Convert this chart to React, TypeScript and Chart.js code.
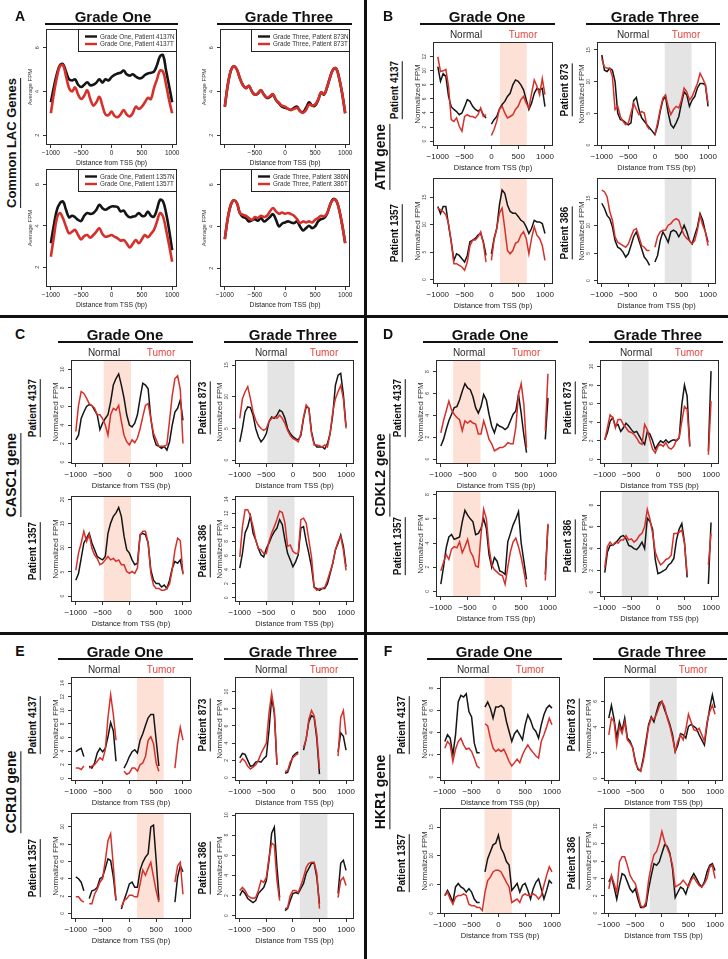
import React, { useEffect, useRef } from 'react';
import { Chart, registerables } from 'chart.js';

Chart.register(...registerables);

const FONT = '"Liberation Sans", Arial, Helvetica, sans-serif';
Chart.defaults.font.family = FONT;

// ---------- shared x positions (bp from TSS) ----------
const POS = [-1000, -950, -900, -850, -800, -750, -700, -650, -600, -550, -500, -450, -400, -350, -300, -250, -200, -150, -100, -50, 0, 50, 100, 150, 200, 250, 300, 350, 400, 450, 500, 550, 600, 650, 700, 750, 800, 850, 900, 950, 1000];
const X_TICKS = [-1000, -500, 0, 500, 1000];

// ---------- Panel A: Common LAC genes (Average FPM) ----------
const A1_N = [3.5, 4.2, 4.8, 5.2, 5.25, 4.9, 4.55, 4.5, 4.55, 4.3, 4.2, 4.3, 4.42, 4.28, 4.3, 4.4, 4.55, 4.4, 4.55, 4.5, 4.65, 4.75, 4.82, 4.85, 4.95, 4.78, 4.72, 4.78, 4.68, 4.6, 4.62, 4.75, 4.82, 4.85, 4.9, 5.2, 5.6, 5.65, 4.95, 4.25, 3.5];
const A1_T = [3.0, 3.9, 4.65, 5.15, 5.2, 4.7, 4.15, 4.0, 4.18, 3.85, 3.65, 3.8, 4.05, 3.65, 3.35, 3.5, 3.75, 3.35, 2.95, 2.92, 3.08, 2.88, 2.82, 2.95, 3.15, 2.95, 2.85, 3.0, 3.3, 3.2, 3.3, 3.5, 3.7, 3.65, 4.15, 4.55, 4.95, 4.9, 4.3, 3.6, 3.0];
const A2_N = [3.3, 4.3, 4.95, 5.15, 5.0, 4.6, 4.3, 4.15, 4.25, 4.0, 3.85, 3.9, 4.05, 3.85, 3.7, 3.75, 3.85, 3.6, 3.45, 3.3, 3.25, 3.2, 3.15, 3.25, 3.3, 3.1, 3.05, 3.25, 3.5, 3.35, 3.35, 3.6, 3.95, 3.85, 4.2, 4.65, 5.0, 5.05, 4.6, 3.9, 3.0];
const A2_T = [3.3, 4.3, 4.95, 5.15, 5.0, 4.6, 4.28, 4.15, 4.25, 4.0, 3.85, 3.92, 4.05, 3.85, 3.72, 3.78, 3.88, 3.62, 3.48, 3.35, 3.3, 3.2, 3.15, 3.2, 3.25, 3.1, 3.02, 3.15, 3.4, 3.35, 3.4, 3.62, 3.95, 3.88, 4.2, 4.65, 5.0, 5.05, 4.6, 3.9, 3.0];
const A3_N = [3.16, 4.05, 4.78, 5.1, 5.18, 4.78, 4.42, 4.49, 4.42, 4.29, 4.24, 4.49, 4.62, 4.58, 4.62, 4.78, 5.02, 4.86, 4.78, 4.86, 4.94, 4.94, 4.91, 4.7, 4.74, 4.53, 4.42, 4.45, 4.49, 4.62, 4.49, 4.49, 4.7, 4.49, 4.45, 4.81, 5.26, 5.18, 4.62, 3.81, 2.83];
const A3_T = [2.51, 3.48, 4.37, 4.62, 4.37, 3.97, 3.64, 3.72, 3.81, 3.56, 3.35, 3.51, 3.56, 3.43, 3.56, 3.72, 3.89, 3.61, 3.48, 3.51, 3.56, 3.48, 3.4, 3.29, 3.32, 3.16, 2.96, 3.13, 3.32, 3.16, 3.35, 3.56, 3.45, 3.61, 3.81, 4.21, 4.62, 4.45, 3.81, 3.08, 2.27];
const A4_N = [3.39, 4.4, 5.04, 5.25, 5.12, 4.64, 4.45, 4.4, 4.24, 4.29, 4.35, 4.27, 4.4, 4.24, 4.32, 4.45, 4.59, 4.32, 4.0, 4.13, 4.19, 4.24, 4.19, 4.16, 4.24, 4.0, 3.81, 3.92, 4.03, 3.92, 4.0, 4.24, 4.35, 4.4, 4.61, 5.04, 5.31, 5.25, 4.8, 4.08, 3.2];
const A4_T = [3.39, 4.4, 5.04, 5.25, 5.12, 4.64, 4.56, 4.51, 4.4, 4.32, 4.45, 4.4, 4.51, 4.45, 4.51, 4.72, 4.88, 4.72, 4.61, 4.67, 4.61, 4.64, 4.59, 4.51, 4.35, 4.16, 4.24, 4.19, 4.24, 4.19, 4.32, 4.4, 4.51, 4.48, 4.64, 5.04, 5.28, 5.25, 4.8, 4.08, 3.2];

// ---------- Panel B: ATM gene ----------
const B1_N = [10.6, 8.5, 9.6, 9.2, 6.35, 4.9, 4.5, 4.2, 3.75, 4.0, 4.9, 5.9, 5.65, 4.95, 4.5, 4.25, 4.5, 3.75, 3.3, null, 2.4, 3.05, 3.5, 4.55, 5.2, 5.65, 6.35, 6.8, 8.0, 8.7, 8.5, 8.0, 7.3, 5.9, 4.5, 5.4, 6.8, 7.5, 7.3, 7.5, 4.9];
const B1_T = [12.0, 9.9, 10.0, 10.2, 7.8, 3.05, 2.8, 3.3, 2.1, 1.4, 3.5, 3.75, 3.5, 3.5, 3.3, 3.75, 4.7, 3.5, 3.75, null, 0.8, 1.65, 2.8, 4.5, 4.95, 4.0, 3.3, 3.5, 3.75, 4.5, 4.95, 5.9, 6.35, 5.4, 4.7, 6.8, 8.7, 7.8, 6.6, 8.9, 6.6];
const B2_N = [14.2, 11.8, 11.6, 12.1, 11.8, 10.0, 5.05, 4.0, 3.9, 3.5, 3.2, 3.5, 7.0, 7.5, 5.6, 4.3, 3.75, 3.2, 2.7, 2.2, 1.65, 3.0, 5.3, 7.1, 7.65, 5.05, 3.2, 2.7, 3.5, 4.5, 6.6, 8.4, 7.9, 6.1, 7.1, 7.65, 9.0, 9.7, 9.7, 9.5, 6.1];
const B2_T = [13.6, 12.3, 12.1, 12.1, 10.8, 5.6, 6.1, 4.5, 3.75, 3.2, 3.5, 5.05, 6.6, 5.6, 4.8, 5.3, 5.05, 3.0, 2.45, null, 1.65, 3.5, 5.6, 7.4, 7.9, 6.1, 4.8, 5.6, 6.1, 5.85, 7.1, 9.0, 8.4, 7.1, 7.65, 8.7, 9.7, 11.3, 10.5, 9.5, 6.6];
const B3_N = [13.3, 12.0, 13.3, 13.3, 9.9, 6.9, 3.5, 4.7, 4.4, 3.8, 3.2, 4.4, 6.9, 7.2, 7.5, 8.1, 8.4, 6.9, 4.4, null, 4.7, 7.5, 9.3, 13.6, 16.3, 15.7, 13.6, 12.4, 12.1, 12.1, 11.5, 10.8, 10.5, 9.6, 8.4, 9.3, 10.8, 10.5, 10.5, 10.2, 8.4];
const B3_T = [13.0, 12.7, 12.4, 11.8, 10.2, 6.9, 2.9, 2.9, 2.6, 2.3, 1.7, 3.2, 6.2, 7.2, 7.2, 7.8, 8.7, 6.6, 3.2, null, 3.5, 7.2, 9.3, 12.1, 13.0, 9.3, 5.3, 4.7, 5.3, 6.6, 6.9, 8.1, 8.7, 7.5, 4.7, 7.5, 9.6, 8.1, 7.5, 6.2, 3.5];
const B4_N = [14.1, 13.2, 11.9, 11.3, 9.8, 7.3, 6.1, 5.8, 5.2, 4.3, 4.9, 6.4, 8.0, 8.9, 7.3, 5.8, 4.3, 3.7, 2.8, null, 3.4, 4.6, 7.3, 8.9, 8.0, 7.0, 8.9, 9.2, 8.9, 8.0, 8.9, 10.1, 8.9, 7.3, 6.7, 8.3, 9.8, 12.2, 11.0, 8.9, 7.0];
const B4_T = [16.5, 16.2, 15.3, 12.6, 11.0, 8.0, 7.0, 6.7, 6.4, 6.1, 6.7, 8.0, 9.2, 9.5, 8.0, 6.4, 6.1, 5.5, 5.5, null, 6.1, 8.0, 8.9, 9.2, 9.2, 10.1, 10.4, 11.0, 11.3, 11.0, 9.5, 8.3, 7.7, 7.3, 6.7, 7.3, 9.2, 11.9, 10.1, 8.9, 6.4];

// ---------- Panel C: CASC1 gene ----------
const C1_N = [2.4, 2.9, 4.7, 5.4, 6.0, 6.2, 6.1, 5.6, 5.1, 3.5, 4.2, 4.7, 5.1, 6.5, 8.3, 9.0, 9.5, 8.3, 6.9, 5.1, 4.0, 3.8, 4.2, 5.1, 6.9, 8.5, 8.3, 7.9, 4.7, 2.75, 1.85, 1.7, 1.5, 1.7, 1.3, 2.2, 4.0, 5.4, 5.8, 6.7, 4.5];
const C1_T = [3.3, 6.1, 7.6, 7.4, 6.9, 6.3, 6.1, 5.8, 5.1, 5.1, 4.7, 4.0, 2.9, 5.1, 5.8, 5.6, 6.1, 4.4, 2.9, 2.2, 1.85, 2.4, 2.1, 2.6, 3.6, 4.9, 6.1, 6.3, 4.7, 3.1, 2.4, 1.7, 1.7, 1.7, 1.9, 4.5, 7.2, 9.0, 9.3, 7.8, 2.0];
const C2_N = [2.9, 5.0, 7.6, 8.4, 8.3, 7.1, 5.0, 3.7, 2.9, 3.4, 4.2, 6.1, 6.8, 6.6, 7.1, 7.9, 7.6, 6.6, 5.0, 4.2, 3.7, 3.4, 3.2, 3.9, 6.6, 8.4, 8.2, 4.5, 2.6, 2.1, 2.1, 2.1, 1.8, 2.6, 4.2, 7.1, 11.8, 13.4, 13.7, 10.3, 5.3];
const C2_T = [6.6, 9.7, 10.8, 11.6, 9.7, 7.6, 6.3, 5.5, 5.0, 4.7, 5.0, 6.1, 6.6, 6.8, 6.6, 7.1, 6.6, 5.8, 4.7, 3.9, 3.4, 3.2, 2.9, 4.2, 6.8, 8.7, 8.2, 4.2, 2.4, 2.4, 2.3, 2.1, 2.4, 2.1, 4.2, 7.6, 9.7, 10.8, 11.8, 9.7, 5.0];
const C3_N = [3.3, 4.7, 7.8, 11.0, 12.0, 13.0, 11.0, 9.6, 8.2, 7.8, 7.5, 8.2, 13.0, 15.1, 16.5, 17.2, 18.3, 16.5, 12.4, 9.6, 8.9, 7.5, 6.5, 6.8, 12.7, 13.0, 12.7, 11.0, 5.4, 3.3, 2.6, 2.6, 1.9, 2.3, 1.6, 3.3, 5.8, 7.2, 6.8, 7.5, 4.7];
const C3_T = [5.4, 8.9, 11.0, 13.4, 11.3, 12.7, 9.9, 8.5, 7.8, 6.5, 6.8, 7.5, 8.2, 7.5, 7.8, 7.2, 7.5, 6.5, 6.5, 5.1, 4.7, 5.1, 4.7, 5.8, 12.7, 13.4, 13.4, 11.0, 4.7, 2.3, 1.6, 1.6, 1.25, 1.25, 1.6, 2.5, 5.5, 9.5, 12.0, 11.5, 4.5];
const C4_N = [4.2, 6.3, 9.2, 10.1, 11.6, 9.2, 8.2, 7.0, 6.1, 5.8, 7.0, 7.75, 8.7, 9.4, 9.9, 11.1, 10.4, 8.2, 6.3, 5.4, 4.4, 5.1, 6.1, 9.9, 10.1, 8.0, 6.3, 4.4, 1.5, 1.3, 1.05, 1.3, 1.3, 2.0, 3.4, 4.9, 6.8, 7.75, 8.9, 7.3, 4.4];
const C4_T = [5.8, 10.1, 12.5, 12.5, 11.6, 10.1, 8.2, 7.0, 6.8, 6.3, 6.3, 8.0, 9.2, 10.1, 11.1, 12.3, 12.1, 10.6, 7.3, 7.5, 6.6, 6.3, 6.3, 11.1, 11.3, 10.6, 8.2, 5.8, 1.5, 1.05, 1.3, 1.3, 1.5, 2.5, 3.7, 4.9, 6.8, 8.0, 8.7, 6.8, 3.9];

// ---------- Panel D: CDKL2 gene ----------
const D1_N = [1.2, 1.8, 2.7, 3.5, 4.1, 4.7, 4.8, 5.4, 6.2, 6.9, 6.5, 6.35, 5.7, 4.7, 4.2, 4.8, 5.9, 5.4, 4.1, 3.0, 2.4, 3.2, 3.0, 2.9, 2.7, 2.9, 3.5, 4.1, 4.4, 5.9, 4.2, 2.2, 0.6, null, null, null, null, null, null, 1.8, 5.6];
const D1_T = [2.4, 3.5, 4.4, 5.3, 4.5, 4.1, 3.8, 3.6, 2.6, 3.5, 3.3, 3.5, 3.3, 3.2, 2.3, 2.3, 3.5, 2.7, 1.8, 1.4, 0.75, 0.9, 1.05, 1.05, 1.2, 1.5, 1.4, 1.4, 2.9, 5.9, 6.9, 5.0, 1.05, null, null, null, null, null, null, 2.6, 7.8];
const D2_N = [2.1, 2.9, 4.1, 4.5, 3.6, 3.75, 3.0, 3.4, 3.9, 3.6, 3.2, 2.9, 3.0, 2.5, 2.0, 1.6, 3.0, 2.7, 2.0, 1.1, 1.6, 2.0, 1.8, 2.1, 1.8, 2.0, 2.1, 2.0, 2.3, 5.9, 8.0, 6.8, 1.4, null, null, null, null, null, null, 0.9, 9.5];
const D2_T = [2.1, 3.4, 4.8, 4.5, 3.4, 4.3, 4.3, 3.75, 3.4, 3.0, 2.9, 2.7, 2.3, 1.8, 1.6, 3.75, 3.2, 2.1, 1.1, 0.7, 1.4, 1.6, 1.4, 1.8, 1.25, 1.1, 1.4, 2.1, 2.3, 4.1, 5.7, 5.4, 1.4, null, null, null, null, null, null, 0.5, 6.25];
const D3_N = [0.6, 2.0, 3.6, 4.5, 4.7, 4.3, 4.4, 4.5, 5.75, 6.7, 6.3, 6.0, 5.75, 4.7, 4.8, 5.2, 6.0, 5.2, 3.05, 2.0, 2.8, 2.5, 1.7, 1.6, 1.4, 4.1, 4.8, 5.5, 6.0, 6.6, 4.0, 2.5, 1.0, null, null, null, null, null, null, 1.4, 5.5];
const D3_T = [1.7, 2.4, 3.05, 2.65, 3.5, 3.7, 3.6, 4.1, 3.2, 3.7, 4.3, 3.3, 2.9, 2.1, 2.0, 4.7, 6.8, 6.0, 3.6, 2.2, 1.8, 1.6, 1.4, 1.3, 0.6, 2.0, 3.3, 4.1, 4.4, 3.7, 2.8, 1.7, 0.35, null, null, null, null, null, null, 0.9, 5.6];
const D4_N = [1.8, 3.7, 4.3, 4.3, 4.5, 4.8, 5.1, 5.2, 4.9, 4.3, 4.2, 4.0, 3.9, 4.2, 4.6, 4.0, 6.8, 6.5, 5.8, 3.0, 1.7, 1.8, 1.95, 2.1, 2.5, 2.7, 3.1, 4.8, 5.8, 6.3, 4.6, 1.35, null, null, null, null, null, null, null, 0.75, 6.4];
const D4_T = [2.25, 4.2, 4.6, 4.3, 4.6, 4.5, 4.8, 4.8, 5.2, 4.8, 4.9, 4.6, 4.8, 5.2, 5.4, 6.0, 7.6, 6.7, 5.4, 3.7, 3.0, 2.5, 2.7, 3.0, 3.1, 3.4, 5.4, 5.4, 5.5, 5.7, 4.5, 1.65, null, null, null, null, null, null, null, 2.5, 5.4];

// ---------- Panel E: CCR10 gene ----------
const E1_N = [3.9, 4.2, 4.4, 3.2, null, 1.8, 1.5, 2.25, 3.7, 4.4, 3.9, 4.4, 6.1, 8.2, 7.0, 2.5, null, null, 1.5, 2.25, 3.2, 3.9, 4.2, 3.7, 5.6, 6.55, 7.75, 8.9, 9.4, 9.4, 5.6, 1.8, null, null, null, null, null, null, null, null, null];
const E1_T = [1.5, 1.5, 1.3, 1.8, null, 1.5, 1.8, 2.0, 2.5, 3.0, 2.7, 4.2, 8.9, 12.3, 9.4, 5.6, null, null, 1.05, 0.6, 0.8, 1.5, 1.5, 1.05, 2.0, 2.25, 3.2, 5.6, 6.1, 5.1, 2.25, 1.05, null, null, null, null, null, 1.5, 5.1, 7.5, 5.6];
const E2_N = [2.3, 2.8, 2.7, 2.0, 1.3, 1.4, 1.8, 1.9, 1.8, 2.2, 2.5, 5.5, 9.3, 7.5, 1.5, null, null, 0.5, 0.6, 1.5, 2.5, 2.8, 3.0, null, 3.2, 4.5, 6.5, 7.2, 7.0, 4.5, 0.4, null, null, null, null, null, null, 3.0, 5.2, 4.8, 3.2];
const E2_T = [1.7, 2.2, 1.9, 1.3, 1.0, 1.2, 1.5, 2.0, 2.8, 3.4, 4.0, 7.5, 9.8, 7.8, 1.5, null, null, 0.7, 0.8, 1.8, 2.3, 2.6, 2.8, null, 3.5, 4.5, 6.8, 7.8, 7.2, 5.0, 1.0, null, null, null, null, null, null, 2.5, 7.0, 7.8, 5.0];
const E3_N = [4.2, 4.0, 3.6, 2.6, null, 1.7, 2.6, 2.7, 3.0, 4.0, 4.2, 5.2, 6.3, 6.1, 4.2, 1.5, null, 0.5, 1.5, 2.4, 3.4, 3.6, 3.0, 3.0, 5.0, 5.9, 6.5, 6.9, 10.0, 10.2, 6.1, 1.5, null, null, null, null, null, 1.3, 4.2, 5.5, 4.8];
const E3_T = [1.9, 1.9, 1.5, 1.3, null, 1.1, 1.1, 2.2, 2.8, 3.6, 4.0, 6.1, 8.4, 9.2, 5.5, 1.5, null, 0.7, 1.5, 1.7, 2.1, 2.1, 1.9, 1.9, 3.4, 5.0, 4.4, 5.2, 5.9, 4.2, 2.6, 1.3, null, null, null, null, null, 3.6, 5.5, 5.9, 2.2];
const E4_N = [2.0, 2.5, 2.2, 1.7, 1.5, 1.3, 1.5, 2.2, 2.5, 2.8, 3.5, 5.5, 8.2, 8.8, 4.8, 1.8, null, 0.5, 0.7, 1.5, 2.2, 2.3, 2.2, 2.7, 3.2, 4.2, 4.7, 5.2, 5.2, 3.8, 1.2, null, null, null, null, null, null, 2.2, 5.2, 5.5, 4.5];
const E4_T = [2.5, 2.8, 2.5, 2.0, 1.8, 1.7, 1.8, 2.5, 3.5, 3.3, 3.8, 5.8, 7.2, 7.0, 3.5, 1.5, null, 0.7, 0.8, 2.0, 2.5, 2.5, 2.3, 3.0, 3.8, 4.8, 5.2, 5.3, 5.3, 4.2, 0.7, null, null, null, null, null, null, 1.8, 3.5, 3.8, 3.0];

// ---------- Panel F: HKR1 gene ----------
const F1_N = [3.2, 3.8, 3.5, 2.0, 3.8, 6.75, 7.35, 7.2, 7.5, 5.9, 5.4, 3.05, 2.2, 2.2, null, 6.3, 6.75, 6.2, 5.3, 6.3, 6.3, 6.45, 6.2, 5.0, 4.1, 3.2, 3.9, 4.2, 3.8, 3.35, 4.7, 5.6, 5.1, 4.4, 4.1, 3.5, 4.7, 5.6, 6.2, 6.45, 6.2];
const F1_T = [2.6, 3.2, 2.9, 1.4, 2.5, 3.2, 3.5, 2.9, 2.5, 2.6, 2.3, 1.7, 1.0, 0.8, null, 4.8, 4.6, 3.5, 2.6, 2.3, 2.5, 2.3, 2.5, 2.0, 1.4, 1.0, 1.3, 1.6, 1.3, 2.0, 2.5, 2.9, 2.5, 2.2, 1.9, 1.7, 3.2, 3.8, 4.5, 5.3, 4.7];
const F2_N = [4.7, 5.7, 4.6, 3.15, 4.4, 3.7, 4.7, 3.15, 2.9, 2.4, 1.35, 0.7, 0.57, 1.6, 2.9, 4.2, 4.8, 4.4, 5.2, 5.9, 6.0, 5.35, 4.8, 4.2, 3.4, 2.1, 2.6, 3.5, 3.4, 3.15, 4.05, 4.2, 4.05, 3.9, 3.4, 3.0, 2.6, 4.2, 5.5, 6.5, 5.5];
const F2_T = [3.4, 4.7, 4.4, 2.6, 4.05, 3.5, 4.4, 3.0, 2.75, 2.4, 1.2, 0.8, 0.57, 1.35, 2.6, 4.05, 4.7, 4.6, 5.0, 5.6, 6.0, 5.6, 4.7, 4.05, 3.15, 2.1, 2.9, 3.4, 3.0, 3.8, 5.0, 4.4, 3.8, 3.7, 3.9, 3.4, 2.9, 4.4, 5.2, 5.7, 5.0];
const F3_N = [3.1, 4.0, 3.1, 1.9, 4.6, 5.2, 4.6, 4.3, 3.7, 4.3, 3.7, 2.5, 1.9, 1.9, null, 7.2, 9.5, 10.7, 11.9, 12.2, 13.6, 11.3, 10.4, 9.0, 8.4, 4.0, 4.6, 5.2, 3.7, 4.9, 5.2, 4.0, 2.5, 4.3, 5.4, 6.0, 4.3, 2.5, 4.0, 5.7, 5.2];
const F3_T = [3.1, 3.7, 2.5, 1.6, 2.8, 3.1, 3.1, 3.4, 3.1, 1.6, 1.35, 1.35, 1.05, 1.05, 0.5, 3.7, 5.7, 6.3, 7.2, 7.5, 7.5, 7.2, 6.3, 5.4, 4.6, 1.9, 2.2, 2.5, 1.9, 3.1, 3.4, 3.1, 3.1, 3.4, 3.1, 2.5, 3.1, 4.9, 6.6, 8.1, 7.2];
const F4_N = [3.6, 4.2, 3.0, 1.6, 3.2, 4.55, 4.35, 3.6, 2.8, 2.4, 2.8, 1.6, 0.66, 0.66, 0.85, 2.8, 4.35, 5.7, 5.5, 5.9, 6.9, 7.85, 7.7, 6.9, 5.1, 1.8, 2.4, 3.0, 2.8, 2.2, 3.2, 4.0, 4.55, 4.0, 3.4, 3.0, 3.6, 4.75, 5.5, 5.7, 4.9];
const F4_T = [2.8, 4.35, 3.4, 2.4, 5.9, 6.5, 6.5, 5.5, 4.35, 3.8, 3.4, 2.2, 0.85, 0.66, 1.25, 3.8, 5.5, 6.7, 7.1, 8.05, 9.4, 8.25, 7.5, 6.7, 5.5, 3.0, 3.2, 3.4, 3.8, 3.4, 3.0, 3.8, 4.15, 3.6, 3.2, 3.0, 3.4, 4.0, 5.3, 5.5, 4.0];

// ---------- styling constants ----------
const RED = '#d6302b';
const BLACK = '#151515';
const PINK = '#fde1d6';
const GREY = '#e4e4e4';
const TUMOR_TXT = '#e2453c';

type Series = (number | null)[];
type Spec = {
  id: string;
  kind: 'A' | 'P';
  box: [number, number, number, number];
  yRange: [number, number];
  yTicks: number[];
  normal: Series;
  tumor: Series;
  shade?: [number, number];
  shadeColor?: string;
  legend?: [string, string];
  hideFirstX?: boolean;
};

type PanelDef = {
  letter: string;
  gene: string;
  ox: number;
  oy: number;
  dx: number;
  bdy: number;
  shadeL: [number, number];
  shadeR: [number, number];
  charts: [Series, Series, [number, number], number[]][];
};

const PANELS: PanelDef[] = [
  {
    letter: 'B', gene: 'ATM gene', ox: 364, oy: 0, dx: -2, bdy: 0, shadeL: [160, 660], shadeR: [185, 690],
    charts: [
      [B1_N, B1_T, [-0.7, 14.1], [0, 2, 4, 6, 8, 10, 12]],
      [B2_N, B2_T, [-0.15, 16.25], [0, 5, 10, 15]],
      [B3_N, B3_T, [-0.8, 18.5], [0, 5, 10, 15]],
      [B4_N, B4_T, [-0.6, 18.7], [0, 5, 10, 15]],
    ],
  },
  {
    letter: 'C', gene: 'CASC1 gene', ox: 0, oy: 318, dx: 0, bdy: 0, shadeL: [-480, 30], shadeR: [-480, 30],
    charts: [
      [C1_N, C1_T, [-0.2, 11.0], [0, 2, 4, 6, 8, 10]],
      [C2_N, C2_T, [-0.6, 15.8], [0, 5, 10, 15]],
      [C3_N, C3_T, [-1.2, 20.7], [0, 5, 10, 15, 20]],
      [C4_N, C4_T, [-0.6, 14.45], [0, 2, 4, 6, 8, 10, 12, 14]],
    ],
  },
  {
    letter: 'D', gene: 'CDKL2 gene', ox: 364, oy: 318, dx: 1, bdy: -5, shadeL: [-770, -260], shadeR: [-680, -175],
    charts: [
      [D1_N, D1_T, [-0.45, 9.06], [0, 2, 4, 6, 8]],
      [D2_N, D2_T, [-0.5, 10.7], [0, 2, 4, 6, 8, 10]],
      [D3_N, D3_T, [-0.46, 8.3], [0, 2, 4, 6, 8]],
      [D4_N, D4_T, [-0.45, 9.3], [0, 2, 4, 6, 8]],
    ],
  },
  {
    letter: 'E', gene: 'CCR10 gene', ox: 0, oy: 635, dx: 0, bdy: 0, shadeL: [140, 640], shadeR: [130, 650],
    charts: [
      [E1_N, E1_T, [-0.4, 14.9], [0, 2, 4, 6, 8, 10, 12, 14]],
      [E2_N, E2_T, [-0.4, 11.7], [0, 2, 4, 6, 8, 10]],
      [E3_N, E3_T, [-0.66, 11.6], [0, 2, 4, 6, 8, 10]],
      [E4_N, E4_T, [-0.33, 10.2], [0, 2, 4, 6, 8, 10]],
    ],
  },
  {
    letter: 'F', gene: 'HKR1 gene', ox: 364, oy: 635, dx: 5, bdy: -5, shadeL: [-260, 250], shadeR: [-230, 280],
    charts: [
      [F1_N, F1_T, [-0.35, 9.0], [0, 2, 4, 6, 8]],
      [F2_N, F2_T, [-0.2, 7.9], [0, 2, 4, 6]],
      [F3_N, F3_T, [-0.1, 18.3], [0, 5, 10, 15]],
      [F4_N, F4_T, [-0.1, 12.1], [0, 2, 4, 6, 8, 10]],
    ],
  },
];

function panelBox(p: PanelDef, col: number, row: number): [number, number, number, number] {
  const l = p.ox + p.dx + (col ? 235 : 71);
  const r = p.ox + p.dx + (col ? 354 : 191);
  const t = p.oy + (row ? 178 + p.bdy : 42);
  const b = p.oy + (row ? 284 + p.bdy : 146);
  return [l, t, r, b];
}

const SPECS: Spec[] = [
  { id: 'A1', kind: 'A', box: [46, 29, 177, 145], yRange: [1.55, 6.85], yTicks: [2, 4, 6], normal: A1_N, tumor: A1_T, legend: ['Grade One, Patient 4137N', 'Grade One, Patient 4137T'] },
  { id: 'A2', kind: 'A', box: [220, 29, 350, 145], yRange: [1.55, 6.85], yTicks: [2, 4, 6], normal: A2_N, tumor: A2_T, legend: ['Grade Three, Patient 873N', 'Grade Three, Patient 873T'], hideFirstX: true },
  { id: 'A3', kind: 'A', box: [46, 169, 177, 287], yRange: [1.05, 6.75], yTicks: [2, 4, 6], normal: A3_N, tumor: A3_T, legend: ['Grade One, Patient 1357N', 'Grade One, Patient 1357T'] },
  { id: 'A4', kind: 'A', box: [220, 169, 350, 287], yRange: [1.1, 6.75], yTicks: [2, 4, 6], normal: A4_N, tumor: A4_T, legend: ['Grade Three, Patient 386N', 'Grade Three, Patient 386T'] },
];
PANELS.forEach((p) => {
  p.charts.forEach((c, i) => {
    const col = i % 2;
    const row = Math.floor(i / 2);
    SPECS.push({
      id: p.letter + (i + 1),
      kind: 'P',
      box: panelBox(p, col, row),
      yRange: c[2],
      yTicks: c[3],
      normal: c[0],
      tumor: c[1],
      shade: col ? p.shadeR : p.shadeL,
      shadeColor: col ? GREY : PINK,
    });
  });
});

const Y_W = 24;
const PAD_T = 6;
const PAD_R = 8;

function fmtX(v: number) {
  return v < 0 ? '\u2212' + Math.abs(v) : String(v);
}

function makePlugin(spec: Spec) {
  const isA = spec.kind === 'A';
  return {
    id: 'rstyle' + spec.id,
    beforeDatasetsDraw(chart: any) {
      const { ctx, chartArea: ca, scales } = chart;
      if (spec.shade) {
        const x0 = scales.x.getPixelForValue(spec.shade[0]);
        const x1 = scales.x.getPixelForValue(spec.shade[1]);
        ctx.save();
        ctx.fillStyle = spec.shadeColor;
        ctx.fillRect(x0, ca.top, x1 - x0, ca.bottom - ca.top);
        ctx.restore();
      }
    },
    afterDraw(chart: any) {
      const { ctx, chartArea: ca, scales } = chart;
      ctx.save();
      // R-style full box
      ctx.strokeStyle = '#2a2a2a';
      ctx.lineWidth = 1;
      ctx.strokeRect(ca.left + 0.5, ca.top + 0.5, ca.right - ca.left - 1, ca.bottom - ca.top - 1);
      // rotated y tick labels
      ctx.fillStyle = '#444';
      ctx.font = `${isA ? 5.5 : 5}px ${FONT}`;
      ctx.textAlign = 'center';
      ctx.textBaseline = 'middle';
      const off = isA ? 9 : 8;
      for (const v of spec.yTicks) {
        const py = scales.y.getPixelForValue(v);
        ctx.save();
        ctx.translate(ca.left - off, py);
        ctx.rotate(-Math.PI / 2);
        ctx.fillText(String(v), 0, 0);
        ctx.restore();
      }
      // legend (panel A)
      if (spec.legend) {
        const lw = 99;
        const lh = 23;
        const lx = ca.right - lw;
        const ly = ca.top;
        ctx.fillStyle = '#fff';
        ctx.fillRect(lx, ly, lw, lh);
        ctx.strokeStyle = '#222';
        ctx.lineWidth = 1;
        ctx.strokeRect(lx + 0.5, ly + 0.5, lw - 1, lh - 1);
        const rows: [string, string][] = [[BLACK, spec.legend[0]], [RED, spec.legend[1]]];
        rows.forEach(([c, txt], k) => {
          const yy = ly + 7.5 + k * 7.5;
          ctx.strokeStyle = c;
          ctx.lineWidth = 2.4;
          ctx.beginPath();
          ctx.moveTo(lx + 7, yy);
          ctx.lineTo(lx + 19, yy);
          ctx.stroke();
          ctx.fillStyle = '#333';
          ctx.font = `6.3px ${FONT}`;
          ctx.textAlign = 'left';
          ctx.textBaseline = 'middle';
          ctx.fillText(txt, lx + 22, yy + 0.3);
        });
      }
      ctx.restore();
    },
  };
}

function MiniChart({ spec }: { spec: Spec }) {
  const ref = useRef<HTMLCanvasElement>(null);
  const isA = spec.kind === 'A';
  const xH = isA ? 24 : 30;
  const [l, t, r, b] = spec.box;
  const w = r - l + Y_W + PAD_R;
  const h = b - t + PAD_T + xH;

  useEffect(() => {
    if (!ref.current) return;
    const lineW = isA ? 2.6 : 1.5;
    const tension = isA ? 0.4 : 0;
    const chart = new Chart(ref.current, {
      type: 'line',
      data: {
        datasets: [
          {
            data: POS.map((x, i) => ({ x, y: spec.tumor[i] })) as any,
            borderColor: RED,
            borderWidth: lineW,
            pointRadius: 0,
            tension,
            fill: false,
          },
          {
            data: POS.map((x, i) => ({ x, y: spec.normal[i] })) as any,
            borderColor: BLACK,
            borderWidth: lineW,
            pointRadius: 0,
            tension,
            fill: false,
          },
        ],
      },
      options: {
        animation: false,
        responsive: false,
        maintainAspectRatio: false,
        events: [],
        layout: { padding: { left: 0, top: PAD_T, right: PAD_R, bottom: 0 } },
        plugins: { legend: { display: false }, tooltip: { enabled: false } },
        scales: {
          x: {
            type: 'linear',
            min: isA ? -1080 : -1090,
            max: isA ? 1080 : 1150,
            afterBuildTicks: (s: any) => {
              s.ticks = X_TICKS.map((v) => ({ value: v }));
            },
            afterFit: (s: any) => {
              s.height = xH;
              s.paddingLeft = 0;
              s.paddingRight = 0;
            },
            ticks: {
              autoSkip: false,
              maxRotation: 0,
              minRotation: 0,
              padding: isA ? 1.5 : 3,
              color: '#222',
              font: { size: isA ? 6.5 : 8 },
              callback: (v: any) => (spec.hideFirstX && Number(v) === -1000 ? '' : fmtX(Number(v))),
            },
            grid: { display: true, drawOnChartArea: false, drawTicks: true, tickLength: 3, color: '#333', lineWidth: 1 },
            border: { display: false },
            title: {
              display: true,
              text: 'Distance from TSS (bp)',
              color: '#222',
              font: { size: isA ? 6.8 : 7.5 },
              padding: { top: 0, bottom: isA ? 1.9 : 3.5 },
            },
          },
          y: {
            type: 'linear',
            min: spec.yRange[0],
            max: spec.yRange[1],
            afterBuildTicks: (s: any) => {
              s.ticks = spec.yTicks.map((v) => ({ value: v }));
            },
            afterFit: (s: any) => {
              s.width = Y_W;
            },
            ticks: { display: false },
            grid: { display: true, drawOnChartArea: false, drawTicks: true, tickLength: 3, color: '#333', lineWidth: 1 },
            border: { display: false },
            title: {
              display: true,
              text: isA ? 'Average FPM' : 'Normalized FPM',
              color: '#333',
              font: { size: isA ? 6 : 8 },
              padding: { top: isA ? 4.4 : 4, bottom: 0 },
            },
          },
        },
      } as any,
      plugins: [makePlugin(spec) as any],
    });
    return () => chart.destroy();
  }, []);

  return (
    <canvas
      ref={ref}
      width={w}
      height={h}
      style={{ position: 'absolute', left: l - Y_W, top: t - PAD_T, width: w, height: h }}
    />
  );
}

function Label({ x, y, text, size, bold, color }: { x: number; y: number; text: string; size: number; bold?: boolean; color?: string }) {
  return (
    <div
      style={{
        position: 'absolute',
        left: x,
        top: y,
        transform: 'translate(-50%, -50%)',
        fontSize: size,
        fontWeight: bold ? 700 : 400,
        color: color || '#111',
        whiteSpace: 'nowrap',
        lineHeight: `${size}px`,
      }}
    >
      {text}
    </div>
  );
}

// vertical (rotated) label with an underline that ends up on its right side
function VLabel({ x, y, text, size, gap, lineW }: { x: number; y: number; text: string; size: number; gap: number; lineW: number }) {
  const p = Math.max(0, gap - size / 2 - lineW / 2);
  const cx = x + (p + lineW) / 2;
  return (
    <div
      style={{
        position: 'absolute',
        left: cx,
        top: y,
        transform: 'translate(-50%, -50%) rotate(-90deg)',
        fontSize: size,
        fontWeight: 700,
        lineHeight: `${size}px`,
        whiteSpace: 'nowrap',
        color: '#111',
        borderBottom: `${lineW}px solid #111`,
        paddingBottom: p,
      }}
    >
      {text}
    </div>
  );
}

function HLine({ x1, x2, y, w }: { x1: number; x2: number; y: number; w?: number }) {
  return <div style={{ position: 'absolute', left: x1, top: y, width: x2 - x1, height: w || 1.5, background: '#111' }} />;
}

export default function App() {
  const texts: React.ReactNode[] = [];
  // Panel A
  texts.push(<Label key="A-l" x={20} y={16} text="A" size={14} bold />);
  texts.push(<Label key="A-g1" x={113} y={16} text="Grade One" size={15} bold />);
  texts.push(<HLine key="A-u1" x1={45} x2={178} y={23} />);
  texts.push(<Label key="A-g3" x={289} y={16} text="Grade Three" size={15} bold />);
  texts.push(<HLine key="A-u3" x1={217} x2={352} y={23} />);
  texts.push(<VLabel key="A-gene" x={11} y={143} text="Common LAC Genes" size={13} gap={9} lineW={1.5} />);

  PANELS.forEach((p) => {
    const { ox, oy, dx, bdy, letter } = p;
    const k = letter;
    texts.push(<Label key={k + 'l'} x={ox + (ox ? 24 : 20)} y={oy + 16} text={letter} size={14} bold />);
    texts.push(<Label key={k + 'g1'} x={ox + 125 + dx} y={oy + 16} text="Grade One" size={15} bold />);
    texts.push(<HLine key={k + 'u1'} x1={ox + 58 + dx} x2={ox + 193 + dx} y={oy + 23} />);
    texts.push(<Label key={k + 'g3'} x={ox + 293 + dx} y={oy + 16} text="Grade Three" size={15} bold />);
    texts.push(<HLine key={k + 'u3'} x1={ox + 224 + dx} x2={ox + 358 + dx} y={oy + 23} />);
    texts.push(<Label key={k + 'n1'} x={ox + 104 + dx} y={oy + 35} text="Normal" size={10} color="#2a2a2a" />);
    texts.push(<Label key={k + 't1'} x={ox + 161 + dx} y={oy + 35} text="Tumor" size={10} color={TUMOR_TXT} />);
    texts.push(<Label key={k + 'n3'} x={ox + 271 + dx} y={oy + 35} text="Normal" size={10} color="#2a2a2a" />);
    texts.push(<Label key={k + 't3'} x={ox + 324 + dx} y={oy + 35} text="Tumor" size={10} color={TUMOR_TXT} />);
    texts.push(<VLabel key={k + 'p1'} x={ox + 33 + dx} y={oy + 90} text="Patient 4137" size={10} gap={7} lineW={1} />);
    texts.push(<VLabel key={k + 'p2'} x={ox + 203 + dx} y={oy + 90} text="Patient 873" size={10} gap={7} lineW={1} />);
    texts.push(<VLabel key={k + 'p3'} x={ox + 33 + dx} y={oy + 233 + bdy} text="Patient 1357" size={10} gap={7} lineW={1} />);
    texts.push(<VLabel key={k + 'p4'} x={ox + 203 + dx} y={oy + 233 + bdy} text="Patient 386" size={10} gap={7} lineW={1} />);
    texts.push(<VLabel key={k + 'gene'} x={ox + (ox ? 16 : 11)} y={oy + 157} text={p.gene} size={14} gap={10} lineW={1.5} />);
  });

  return (
    <div
      style={{
        position: 'absolute',
        left: 0,
        top: 0,
        width: 728,
        height: 959,
        background: '#fff',
        overflow: 'hidden',
        fontFamily: FONT,
      }}
    >
      {SPECS.map((s) => (
        <MiniChart key={s.id} spec={s} />
      ))}
      {texts}
      {/* panel separators */}
      <div style={{ position: 'absolute', left: 364, top: 0, width: 3, height: 959, background: '#111' }} />
      <div style={{ position: 'absolute', left: 0, top: 315, width: 728, height: 3, background: '#111' }} />
      <div style={{ position: 'absolute', left: 0, top: 632, width: 728, height: 3, background: '#111' }} />
    </div>
  );
}
